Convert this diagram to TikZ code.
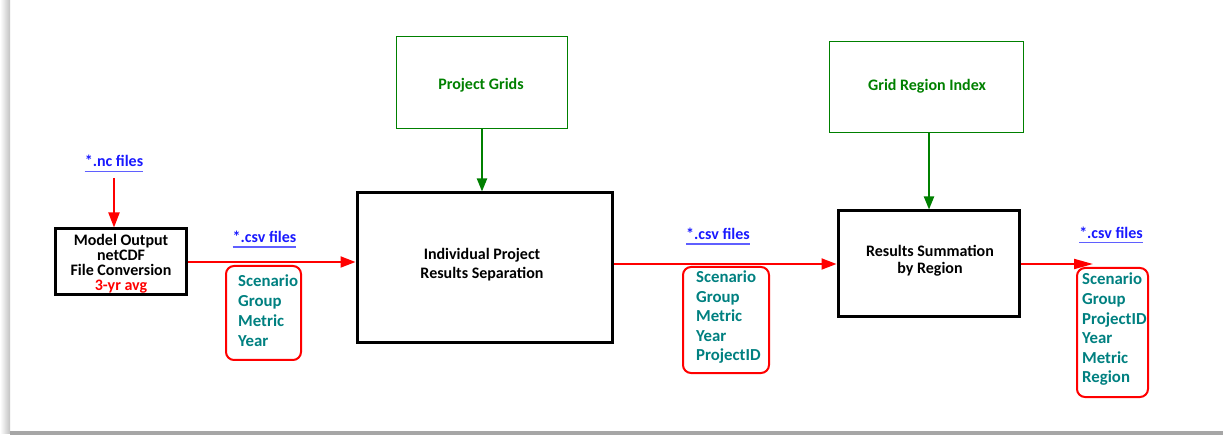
\documentclass[tikz,border=0pt]{standalone}
\usepackage{fontspec}
\setmainfont{Carlito}
\usetikzlibrary{arrows.meta}
\definecolor{lblblue}{RGB}{25,25,255}
\definecolor{ulblue}{RGB}{95,95,255}
\definecolor{tealtxt}{RGB}{0,128,128}
\definecolor{grn}{RGB}{0,128,0}
\definecolor{redc}{RGB}{255,0,0}
\begin{document}
\begin{tikzpicture}[x=1pt,y=-1pt,
  procbox/.style={draw=black, line width=3pt, inner sep=0},
  srcbox/.style={draw=grn, line width=1pt, inner sep=0},
  listbox/.style={draw=redc, line width=2pt, rounded corners=8pt, inner sep=0},
  redarrow/.style={draw=redc, line width=2pt, -{Triangle[length=15pt,width=11pt]}},
  grnarrow/.style={draw=grn, line width=2pt, -{Triangle[length=13pt,width=10pt]}},
  boxtext/.style={font=\fontsize{16}{19}\selectfont\bfseries, align=center, inner sep=0},
  lbl/.style={font=\fontsize{16}{19}\selectfont\bfseries, text=lblblue, inner sep=0, anchor=base},
  ul/.style={draw=ulblue, line width=1.5pt},
  listtext/.style={font=\fontsize{16.8}{20}\selectfont\bfseries, text=tealtxt, align=left, inner sep=0, anchor=north west}]
\useasboundingbox (0,0) rectangle (1223,435);
% frame shadow
\shade[left color=white, right color=black!24] (0,0) rectangle (10,433);
\fill[black!35] (10,431) rectangle (1223,435);

% main boxes
\node[procbox, minimum width=131pt, minimum height=66pt] (model) at (120.5,262) {};
\node[procbox, minimum width=255pt, minimum height=150pt] (ind) at (484.5,268) {};
\node[procbox, minimum width=181pt, minimum height=106pt] (res) at (928.5,264) {};
\node[srcbox, minimum width=171pt, minimum height=92pt] (pg) at (482,83) {};
\node[srcbox, minimum width=194pt, minimum height=91pt] (gri) at (926,87.5) {};

% box texts
\node[boxtext, font=\fontsize{16}{15}\selectfont\bfseries] (modeltxt) at (121,264) {Model Output\\netCDF\\File Conversion\\\textcolor{redc}{3-yr avg}};
\node[boxtext] (indtxt) at (482,265) {Individual Project\\Results Separation};
\node[boxtext, font=\fontsize{16}{17}\selectfont\bfseries] (restxt) at (930,261) {Results Summation\\by Region};
\node[boxtext, text=grn] (pgtxt) at (481,85) {Project Grids};
\node[boxtext, text=grn] (gritxt) at (927,86) {Grid Region Index};

% labels
\node[lbl] (nc) at (114,167) {*.nc files};
\draw[ul] ([yshift=-4.5pt]nc.base west) -- ([yshift=-4.5pt]nc.base east);
\node[lbl] (csv1) at (264.5,242.5) {*.csv files};
\draw[ul] ([yshift=-4.5pt]csv1.base west) -- ([yshift=-4.5pt]csv1.base east);
\node[lbl] (csv2) at (718,240) {*.csv files};
\draw[ul] ([yshift=-4pt]csv2.base west) -- ([yshift=-4pt]csv2.base east);
\node[lbl] (csv3) at (1111,239) {*.csv files};
\draw[ul] ([yshift=-3.5pt]csv3.base west) -- ([yshift=-3.5pt]csv3.base east);

% lists
\node[listbox, minimum width=75pt, minimum height=94pt] (list1) at (263.5,313) {};
\node[listtext] (list1t) at (238,275) {Scenario\\Group\\Metric\\Year};
\node[listbox, minimum width=86pt, minimum height=106pt] (list2) at (726,320) {};
\node[listtext, font=\fontsize{16.8}{19.5}\selectfont\bfseries] (list2t) at (696,271) {Scenario\\Group\\Metric\\Year\\ProjectID};
\node[listbox, minimum width=71pt, minimum height=129pt] (list3) at (1112.5,332.5) {};
\node[listtext, font=\fontsize{16.8}{19.6}\selectfont\bfseries] (list3t) at (1082,273) {Scenario\\Group\\ProjectID\\Year\\Metric\\Region};

% connectors
\coordinate (ncstart) at (114,178);
\draw[redarrow] (ncstart) -- (ncstart |- model.north);
\draw[redarrow] (model.east) -- (model.east -| ind.west);
\draw[redarrow] (ind.east |- res.west) -- (res.west);
\coordinate (outend) at (1093,264);
\draw[redarrow, -{Triangle[length=19pt,width=10pt]}] (res.east) -- (outend);
\draw[grnarrow] (pg.south) -- (pg.south |- ind.north);
\draw[grnarrow] ([xshift=3pt]gri.south) -- ([xshift=3pt]gri.south |- res.north);
\end{tikzpicture}
\end{document}
